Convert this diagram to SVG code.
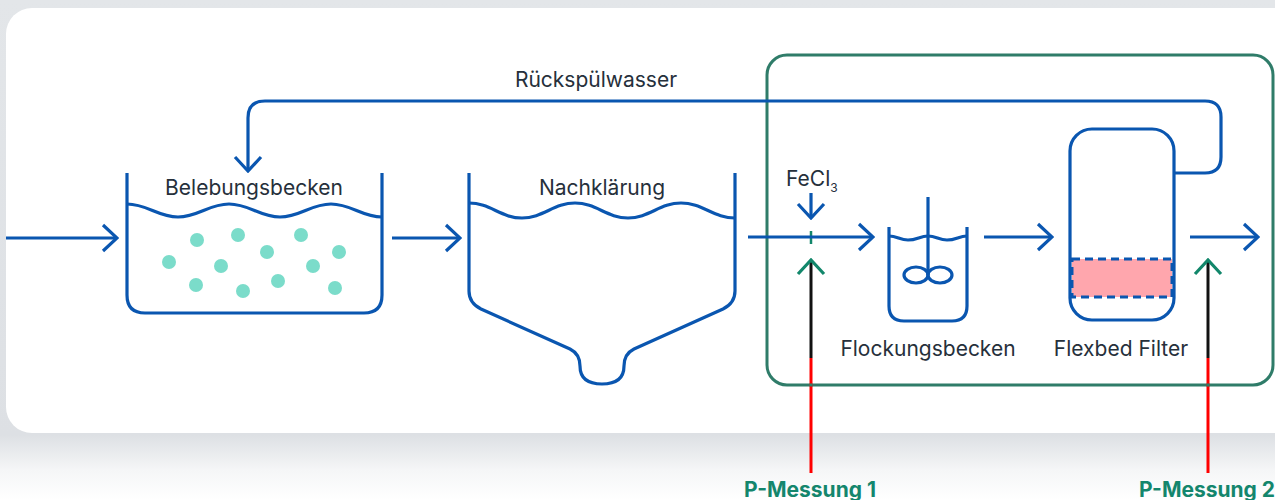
<svg xmlns="http://www.w3.org/2000/svg" width="1275" height="500" viewBox="0 0 1275 500">
<defs>
<linearGradient id="bg" x1="0" y1="0" x2="0" y2="1">
<stop offset="0" stop-color="#e3e6e9"/>
<stop offset="0.87" stop-color="#dde0e4"/>
<stop offset="0.94" stop-color="#f5f6f7"/>
<stop offset="1" stop-color="#ffffff"/>
</linearGradient>
<marker id="arr" viewBox="0 0 18 30" refX="16" refY="15" markerWidth="18" markerHeight="30" markerUnits="userSpaceOnUse" orient="auto">
<path d="M2,2 L16,15 L2,28" fill="none" stroke="#0a56b0" stroke-width="3.2"/>
</marker>
<marker id="arrG" viewBox="0 0 18 30" refX="16" refY="15" markerWidth="18" markerHeight="30" markerUnits="userSpaceOnUse" orient="auto">
<path d="M2,2 L16,15 L2,28" fill="none" stroke="#12876b" stroke-width="3.2"/>
</marker>
<style>
.ln{fill:none;stroke:#0a56b0;stroke-width:3.2;stroke-linejoin:round}
.lbl{font-family:Inter,"Liberation Sans",sans-serif;font-size:21px;fill:#26303b}
.dot{fill:#7bdcca}
.pm{font-family:Inter,"Liberation Sans",sans-serif;font-size:21px;font-weight:700;fill:#14866d}
.blk{stroke:#111;stroke-width:3}
.red{stroke:#f00;stroke-width:3}
</style>
</defs>
<rect x="0" y="0" width="1275" height="500" fill="url(#bg)"/>
<rect x="6" y="8" width="1320" height="425" rx="26" fill="#ffffff"/>

<g id="treatment-box">
<rect x="767" y="55" width="506" height="330" rx="20" fill="none" stroke="#2f7c69" stroke-width="3"/>
</g>

<g id="belebungsbecken">
<path class="ln" d="M127,173 V295 Q127,313 145,313 H364 Q382,313 382,295 V173"/>
<path class="ln" d="M127,204 C147,204 158,217 178,217 C198,217 209,204 229,204 C249,204 260,217 280,217 C300,217 311,204 331,204 C351,204 362,217 382,217"/>
<circle class="dot" cx="197" cy="240" r="7"/>
<circle class="dot" cx="238" cy="235" r="7"/>
<circle class="dot" cx="301" cy="235" r="7"/>
<circle class="dot" cx="169" cy="262" r="7"/>
<circle class="dot" cx="221" cy="266" r="7"/>
<circle class="dot" cx="267" cy="252" r="7"/>
<circle class="dot" cx="313" cy="266" r="7"/>
<circle class="dot" cx="339" cy="252" r="7"/>
<circle class="dot" cx="196" cy="285" r="7"/>
<circle class="dot" cx="243" cy="291" r="7"/>
<circle class="dot" cx="278" cy="281" r="7"/>
<circle class="dot" cx="335" cy="288" r="7"/>
<text class="lbl" x="254" y="195" text-anchor="middle">Belebungsbecken</text>
</g>

<g id="nachklaerung">
<path class="ln" d="M469,173 V291 Q469,303 481,309 L570,349 Q580,354 580,366 Q580,384 602,384 Q624,384 624,366 Q624,354 634,349 L723,309 Q735,303 735,291 V173"/>
<path class="ln" d="M469,203 C490,203 501,218 522,218 C543,218 554,203 575,203 C596,203 607,218 628,218 C649,218 660,203 681,203 C702,203 714,218 735,218"/>
<text class="lbl" x="602" y="195" text-anchor="middle">Nachklärung</text>
</g>

<g id="flockungsbecken">
<path class="ln" d="M889,227 V306 Q889,321 904,321 H952 Q967,321 967,306 V227"/>
<path class="ln" stroke-width="2.5" d="M889,236 C897,236 900,240 908,240 C917,240 920,236 928,236 C936,236 939,240 947,240 C956,240 959,236 967,236"/>
<line class="ln" x1="928" y1="197" x2="928" y2="275"/>
<ellipse class="ln" cx="916" cy="275" rx="12" ry="8"/>
<ellipse class="ln" cx="940" cy="275" rx="12" ry="8"/>
<text class="lbl" x="928" y="356" text-anchor="middle">Flockungsbecken</text>
</g>

<g id="flexbed-filter">
<rect x="1072" y="259" width="100" height="38" fill="#ffa6ad" stroke="#0a56b0" stroke-width="3" stroke-dasharray="8 5"/>
<rect class="ln" x="1070" y="129" width="104" height="191" rx="22"/>
<text class="lbl" x="1121" y="356" text-anchor="middle">Flexbed Filter</text>
</g>

<g id="fecl3">
<text class="lbl" x="786" y="186" font-size="20">FeCl<tspan font-size="12" dy="6">3</tspan></text>
</g>

<g id="connectors">
<line x1="811" y1="231" x2="811" y2="244" stroke="#12876b" stroke-width="2.5"/>
<line class="ln" x1="6" y1="238" x2="117" y2="238" marker-end="url(#arr)"/>
<line class="ln" x1="392" y1="238" x2="460" y2="238" marker-end="url(#arr)"/>
<line class="ln" x1="748" y1="237" x2="873" y2="237" marker-end="url(#arr)"/>
<line class="ln" x1="984" y1="237" x2="1052" y2="237" marker-end="url(#arr)"/>
<line class="ln" x1="1190" y1="237" x2="1258" y2="237" marker-end="url(#arr)"/>
<line class="ln" x1="811" y1="193" x2="811" y2="218" marker-end="url(#arr)"/>
<path class="ln" d="M1174,173 H1205 Q1221,173 1221,157 V117 Q1221,101 1205,101 H265 Q248,101 248,118 V171" marker-end="url(#arr)"/>
<text class="lbl" x="596" y="87" text-anchor="middle">Rückspülwasser</text>
</g>

<g id="p-messung-1">
<line class="red" x1="811" y1="358" x2="811" y2="473"/>
<line class="blk" x1="811" y1="358" x2="811" y2="260" marker-end="url(#arrG)"/>
<rect x="809.5" y="383.5" width="3" height="3" fill="#2f7c69"/>
<text class="pm" x="810" y="497" text-anchor="middle">P-Messung 1</text>
</g>

<g id="p-messung-2">
<line class="red" x1="1208" y1="358" x2="1208" y2="473"/>
<line class="blk" x1="1208" y1="358" x2="1208" y2="260" marker-end="url(#arrG)"/>
<rect x="1206.5" y="383.5" width="3" height="3" fill="#2f7c69"/>
<text class="pm" x="1207" y="497" text-anchor="middle">P-Messung 2</text>
</g>
</svg>
